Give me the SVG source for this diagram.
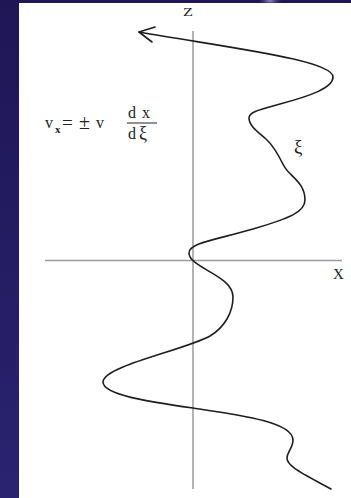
<svg xmlns="http://www.w3.org/2000/svg" width="351" height="498" viewBox="0 0 351 498">
  <defs>
    <linearGradient id="bandGrad" x1="0" y1="0" x2="0" y2="1">
      <stop offset="0" stop-color="#1e1655"/>
      <stop offset="1" stop-color="#2a2370"/>
    </linearGradient>
    <radialGradient id="glow" cx="0.5" cy="0.5" r="0.5">
      <stop offset="0" stop-color="#9a90c8"/>
      <stop offset="1" stop-color="#1e1655" stop-opacity="0"/>
    </radialGradient>
    <style>
      .axis { stroke: #9a9a9a; stroke-width: 1.5; fill: none; }
      .curve { stroke: #1e1e1e; stroke-width: 1.6; fill: none; stroke-linecap: round; stroke-linejoin: round; }
      .lbl { font-family: "Liberation Serif", "DejaVu Serif", serif; fill: #222; }
    </style>
  </defs>

  <g id="background">
    <rect x="0" y="0" width="351" height="498" fill="url(#bandGrad)"/>
    <ellipse cx="270" cy="1" rx="14" ry="5" fill="url(#glow)"/>
    <rect x="19" y="3" width="332" height="495" fill="#ffffff"/>
  </g>

  <g id="axes">
    <line class="axis" x1="193" y1="31" x2="193" y2="489"/>
    <line class="axis" x1="45" y1="260.5" x2="342" y2="260.5"/>
  </g>

  <g id="connectors">
    <path class="curve" d="M139,32 C230,48 333,60 333,77 C333,88 310,96 280,104 C258,110 249,112 249,118 C249,126 258,132 266,139 C274,146 280,158 284,166 C289,176 305,182 305,200 C305,212 290,218 253,229 C215,240 189,243 189,253 C189,268 233,275 233,297 C233,312 225,327 210,336 C185,350 103,366 103,382 C103,395 150,402 193,408 C240,415 293,422 293,440 C293,448 287,452 287,458 C287,466 300,472 331,489"/>
    <path class="curve" d="M155,27 L139,32 L152,42"/>
  </g>

  <g id="labels">
    <text class="lbl" x="183" y="16" font-size="13.5" textLength="10" lengthAdjust="spacingAndGlyphs">Z</text>
    <text class="lbl" x="333" y="279" font-size="15">X</text>
    <text class="lbl" x="294" y="153" font-size="19">ξ</text>
  </g>

  <g id="formula">
    <text class="lbl" x="45" y="128" font-size="16">v</text>
    <text class="lbl" x="55" y="133" font-size="11" font-weight="bold">x</text>
    <text class="lbl" x="62" y="129" font-size="19">=</text>
    <text class="lbl" x="79" y="129" font-size="20">±</text>
    <text class="lbl" x="96" y="128" font-size="16">v</text>
    <text class="lbl" x="128" y="118" font-size="16">d</text>
    <text class="lbl" x="142" y="118" font-size="16">x</text>
    <line x1="127" y1="123" x2="157" y2="123" stroke="#222" stroke-width="1"/>
    <text class="lbl" x="128" y="139" font-size="16">d</text>
    <text class="lbl" x="139" y="139" font-size="18">ξ</text>
  </g>
</svg>
